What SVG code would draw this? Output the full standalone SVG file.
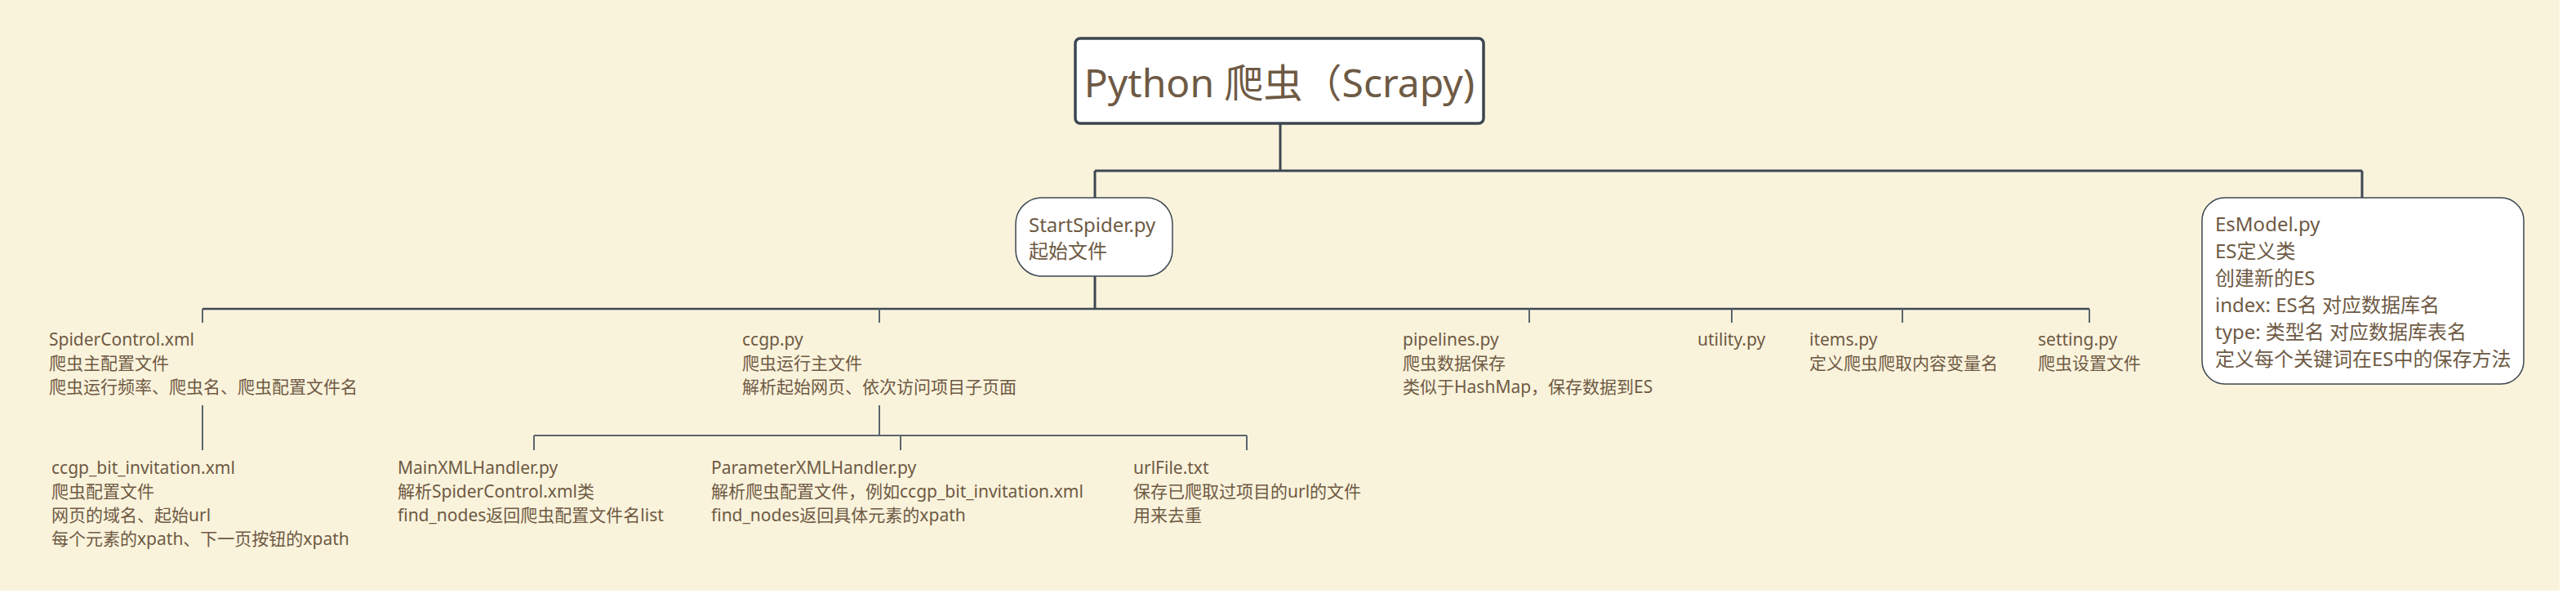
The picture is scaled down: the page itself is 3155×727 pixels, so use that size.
<svg xmlns="http://www.w3.org/2000/svg" width="3155" height="727" viewBox="0 0 3155 727">
<style>
text{font-family:"Noto Sans","Noto Sans CJK SC",sans-serif;fill:#6e5a44}
.t{font-size:21px}
.b{font-size:24px}
.root{font-size:48px}
.c1{stroke:#3d4852;stroke-width:3;fill:none}
.c2{stroke:#5a656e;stroke-width:2;fill:none}
.box{fill:#ffffff;stroke:#3d4852;stroke-width:1.5}
</style>
<rect x="0" y="0" width="3155" height="727" fill="#ffffff"/>
<rect x="0" y="0" width="3135" height="723" fill="#faf3dc"/>
<g id="connectors">
<path class="c1" d="M1568 151V209M1341 209H2893M1341 209V242M2893 209V242M1341 338V378"/>
<path class="c1" style="stroke-width:2.5" d="M248 378H2559"/>
<path class="c2" d="M248 378V395M1077 378V395M1873 378V395M2121 378V395M2330 378V395M2559 378V395"/>
<path class="c2" d="M248 496V551M1077 496V533M654 533H1527M654 533V551M1103 533V551M1527 533V551"/>
</g>
<g id="root">
<rect x="1317" y="47" width="500" height="104" rx="6" fill="#ffffff" stroke="#3b4650" stroke-width="3.5"/>
<text class="root" x="1567" y="119" text-anchor="middle">Python 爬虫（Scrapy)</text>
</g>
<g id="startspider">
<rect class="box" x="1244" y="242" width="192" height="96" rx="32"/>
<text class="b" x="1260" y="284">StartSpider.py</text>
<text class="b" x="1260" y="316">起始文件</text>
</g>
<g id="esmodel">
<rect class="box" x="2697" y="242" width="394" height="228" rx="28"/>
<text class="b" x="2713" y="283">EsModel.py</text>
<text class="b" x="2713" y="316">ES定义类</text>
<text class="b" x="2713" y="349">创建新的ES</text>
<text class="b" x="2713" y="382">index: ES名 对应数据库名</text>
<text class="b" x="2713" y="415">type: 类型名 对应数据库表名</text>
<text class="b" x="2713" y="448">定义每个关键词在ES中的保存方法</text>
</g>
<g id="spidercontrol">
<text class="t" x="60" y="423">SpiderControl.xml</text>
<text class="t" x="60" y="452">爬虫主配置文件</text>
<text class="t" x="60" y="481">爬虫运行频率、爬虫名、爬虫配置文件名</text>
</g>
<g id="ccgp_bit_invitation">
<text class="t" x="63" y="580">ccgp_bit_invitation.xml</text>
<text class="t" x="63" y="609">爬虫配置文件</text>
<text class="t" x="63" y="638">网页的域名、起始url</text>
<text class="t" x="63" y="667">每个元素的xpath、下一页按钮的xpath</text>
</g>
<g id="ccgp">
<text class="t" x="909" y="423">ccgp.py</text>
<text class="t" x="909" y="452">爬虫运行主文件</text>
<text class="t" x="909" y="481">解析起始网页、依次访问项目子页面</text>
</g>
<g id="mainxmlhandler">
<text class="t" x="487" y="580">MainXMLHandler.py</text>
<text class="t" x="487" y="609">解析SpiderControl.xml类</text>
<text class="t" x="487" y="638">find_nodes返回爬虫配置文件名list</text>
</g>
<g id="parameterxmlhandler">
<text class="t" x="871" y="580">ParameterXMLHandler.py</text>
<text class="t" x="871" y="609">解析爬虫配置文件，例如ccgp_bit_invitation.xml</text>
<text class="t" x="871" y="638">find_nodes返回具体元素的xpath</text>
</g>
<g id="urlfile">
<text class="t" x="1388" y="580">urlFile.txt</text>
<text class="t" x="1388" y="609">保存已爬取过项目的url的文件</text>
<text class="t" x="1388" y="638">用来去重</text>
</g>
<g id="pipelines">
<text class="t" x="1718" y="423">pipelines.py</text>
<text class="t" x="1718" y="452">爬虫数据保存</text>
<text class="t" x="1718" y="481">类似于HashMap，保存数据到ES</text>
</g>
<g id="utility">
<text class="t" x="2079" y="423">utility.py</text>
</g>
<g id="items">
<text class="t" x="2216" y="423">items.py</text>
<text class="t" x="2216" y="452">定义爬虫爬取内容变量名</text>
</g>
<g id="setting">
<text class="t" x="2496" y="423">setting.py</text>
<text class="t" x="2496" y="452">爬虫设置文件</text>
</g>
</svg>
